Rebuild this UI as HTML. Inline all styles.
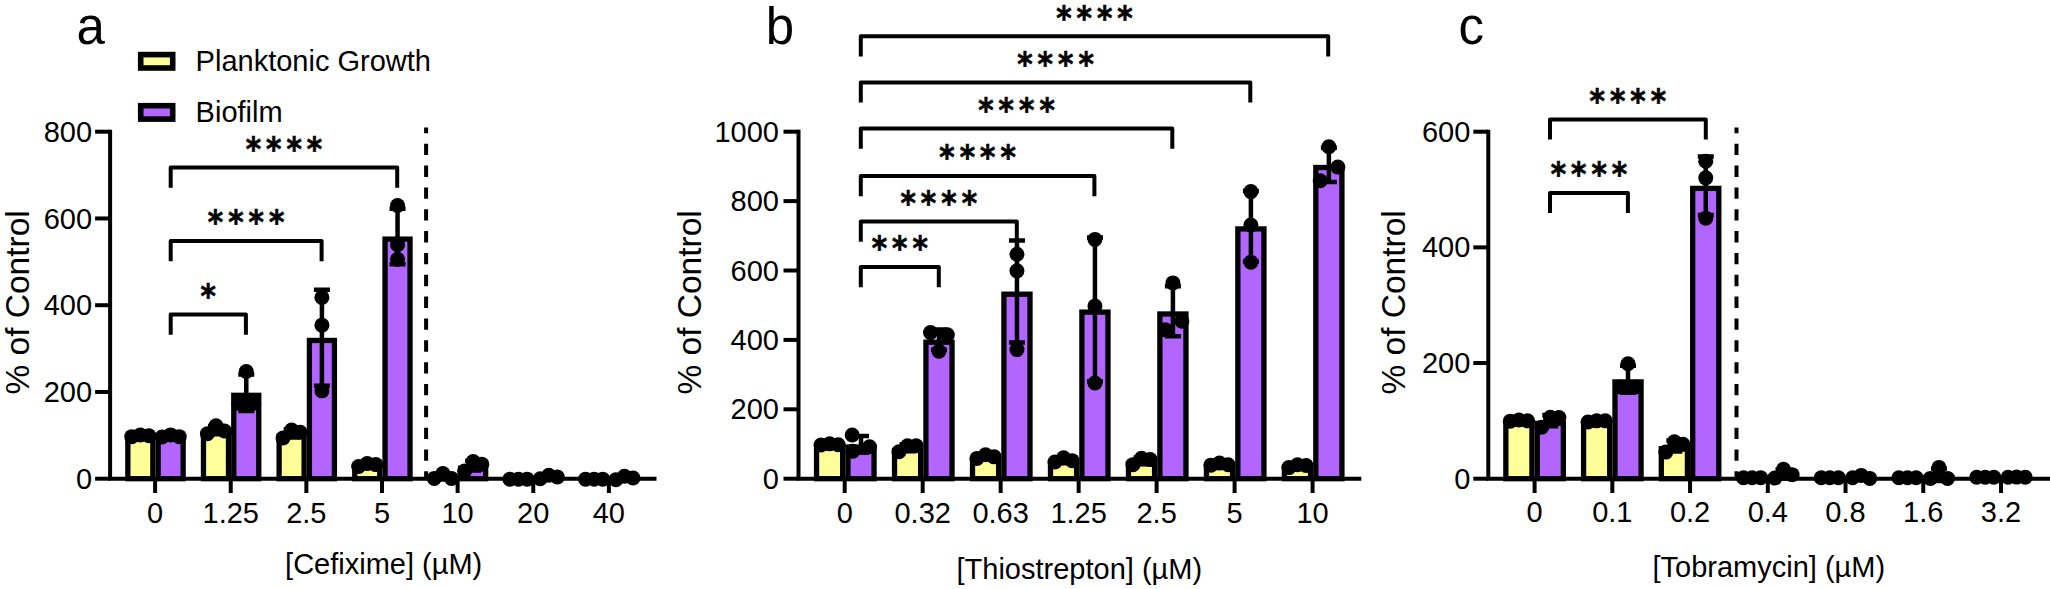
<!DOCTYPE html>
<html lang="en">
<head>
<meta charset="utf-8">
<title>Biofilm stimulation by antibiotics</title>
<style>
html,body{margin:0;padding:0;background:#fff;}
body{width:2050px;height:589px;overflow:hidden;}
svg{display:block;}
text{font-family:"Liberation Sans",Arial,Helvetica,sans-serif;fill:#000;}
text.st{font-family:"DejaVu Sans Mono","Liberation Mono",monospace;font-weight:bold;font-size:32px;letter-spacing:2.67px;stroke:#000;stroke-width:0.6px;stroke-linejoin:miter;}
.bar{stroke:#000;stroke-width:5.3;}
.lg{stroke:#000;stroke-width:5.6;}
.ax{fill:none;stroke:#000;stroke-width:4.0;}
.eb{fill:none;stroke:#000;stroke-width:4.5;}
.br{fill:none;stroke:#000;stroke-width:4;stroke-linejoin:round;}
.dash{fill:none;stroke:#000;stroke-width:4;stroke-dasharray:11.35 10.49;stroke-dashoffset:5.5;}
circle{fill:#000;}
</style>
</head>
<body>
<svg width="2050" height="589" viewBox="0 0 2050 589">
<rect width="2050" height="589" fill="#fff"/>
<g id="bars-a">
<rect class="bar" x="127.85" y="438.41" width="25.00" height="40.29" fill="#FFFF99"/>
<rect class="bar" x="158.15" y="438.84" width="25.00" height="39.86" fill="#B266FF"/>
<rect class="bar" x="203.48" y="432.84" width="25.00" height="45.86" fill="#FFFF99"/>
<rect class="bar" x="233.78" y="395.32" width="25.00" height="83.38" fill="#B266FF"/>
<rect class="bar" x="279.11" y="436.10" width="25.00" height="42.60" fill="#FFFF99"/>
<rect class="bar" x="309.41" y="340.45" width="25.00" height="138.25" fill="#B266FF"/>
<rect class="bar" x="354.74" y="467.54" width="25.00" height="11.16" fill="#FFFF99"/>
<rect class="bar" x="385.04" y="239.10" width="25.00" height="239.60" fill="#B266FF"/>
<rect x="427.72" y="476.76" width="30.30" height="1.94" fill="#000"/>
<rect class="bar" x="460.67" y="468.24" width="25.00" height="10.46" fill="#B266FF"/>
<rect x="533.65" y="476.96" width="30.30" height="1.74" fill="#000"/>
<rect x="609.28" y="478.03" width="30.30" height="0.67" fill="#000"/>
</g>
<g id="err-a">
<path class="eb" d="M170.65 435.04V437.34M162.65 435.04h16M162.65 437.34h16"/>
<path class="eb" d="M215.98 426.12V434.26M207.98 426.12h16M207.98 434.26h16"/>
<path class="eb" d="M246.28 374.39V410.95M238.28 374.39h16M238.28 410.95h16"/>
<path class="eb" d="M291.61 429.42V437.48M283.61 429.42h16M283.61 437.48h16"/>
<path class="eb" d="M321.91 289.80V385.81M313.91 289.80h16M313.91 385.81h16"/>
<path class="eb" d="M367.24 463.35V466.43M359.24 463.35h16M359.24 466.43h16"/>
<path class="eb" d="M397.54 208.63V264.27M389.54 208.63h16M389.54 264.27h16"/>
<path class="eb" d="M442.87 473.93V479.59M434.87 473.93h16M434.87 479.59h16"/>
<path class="eb" d="M473.17 460.74V470.43M465.17 460.74h16M465.17 470.43h16"/>
<path class="eb" d="M548.80 475.23V478.70M540.80 475.23h16M540.80 478.70h16"/>
<path class="eb" d="M624.43 476.30V479.77M616.43 476.30h16M616.43 479.77h16"/>
</g>
<g id="pts-a">
<circle cx="131.75" cy="436.63" r="7.5"/>
<circle cx="140.35" cy="434.89" r="7.5"/>
<circle cx="148.95" cy="435.76" r="7.5"/>
<circle cx="162.05" cy="437.06" r="7.5"/>
<circle cx="170.65" cy="434.89" r="7.5"/>
<circle cx="179.25" cy="436.63" r="7.5"/>
<circle cx="207.38" cy="433.81" r="7.5"/>
<circle cx="215.98" cy="425.78" r="7.5"/>
<circle cx="224.58" cy="430.99" r="7.5"/>
<circle cx="246.28" cy="371.56" r="7.5"/>
<circle cx="238.78" cy="403.23" r="7.5"/>
<circle cx="253.78" cy="403.23" r="7.5"/>
<circle cx="283.01" cy="437.93" r="7.5"/>
<circle cx="291.61" cy="430.12" r="7.5"/>
<circle cx="300.21" cy="432.29" r="7.5"/>
<circle cx="321.91" cy="297.39" r="7.5"/>
<circle cx="321.91" cy="325.15" r="7.5"/>
<circle cx="321.91" cy="390.87" r="7.5"/>
<circle cx="358.64" cy="466.56" r="7.5"/>
<circle cx="367.24" cy="463.52" r="7.5"/>
<circle cx="375.84" cy="464.60" r="7.5"/>
<circle cx="397.54" cy="205.44" r="7.5"/>
<circle cx="397.54" cy="244.69" r="7.5"/>
<circle cx="397.54" cy="259.22" r="7.5"/>
<circle cx="434.27" cy="478.40" r="7.5"/>
<circle cx="442.87" cy="473.50" r="7.5"/>
<circle cx="451.47" cy="478.40" r="7.5"/>
<circle cx="464.57" cy="470.98" r="7.5"/>
<circle cx="473.17" cy="461.61" r="7.5"/>
<circle cx="481.77" cy="464.17" r="7.5"/>
<circle cx="509.90" cy="479.13" r="7.5"/>
<circle cx="518.50" cy="479.13" r="7.5"/>
<circle cx="527.10" cy="479.13" r="7.5"/>
<circle cx="540.20" cy="478.70" r="7.5"/>
<circle cx="548.80" cy="475.23" r="7.5"/>
<circle cx="557.40" cy="476.96" r="7.5"/>
<circle cx="585.53" cy="479.13" r="7.5"/>
<circle cx="594.13" cy="479.13" r="7.5"/>
<circle cx="602.73" cy="479.13" r="7.5"/>
<circle cx="615.83" cy="479.78" r="7.5"/>
<circle cx="624.43" cy="476.31" r="7.5"/>
<circle cx="633.03" cy="478.01" r="7.5"/>
</g>
<path class="ax" d="M110.10 129.70V478.70H656.50"/>
<path class="ax" d="M95.10 478.70H110.10"/>
<text x="92.10" y="488.80" font-size="29.0" text-anchor="end" >0</text>
<path class="ax" d="M95.10 391.95H110.10"/>
<text x="92.10" y="402.05" font-size="29.0" text-anchor="end" >200</text>
<path class="ax" d="M95.10 305.20H110.10"/>
<text x="92.10" y="315.30" font-size="29.0" text-anchor="end" >400</text>
<path class="ax" d="M95.10 218.45H110.10"/>
<text x="92.10" y="228.55" font-size="29.0" text-anchor="end" >600</text>
<path class="ax" d="M95.10 131.70H110.10"/>
<text x="92.10" y="141.80" font-size="29.0" text-anchor="end" >800</text>
<path class="ax" d="M155.10 478.70V493.00"/>
<text x="155.10" y="523.20" font-size="29.0" text-anchor="middle" >0</text>
<path class="ax" d="M230.73 478.70V493.00"/>
<text x="230.73" y="523.20" font-size="29.0" text-anchor="middle" >1.25</text>
<path class="ax" d="M306.36 478.70V493.00"/>
<text x="306.36" y="523.20" font-size="29.0" text-anchor="middle" >2.5</text>
<path class="ax" d="M381.99 478.70V493.00"/>
<text x="381.99" y="523.20" font-size="29.0" text-anchor="middle" >5</text>
<path class="ax" d="M457.62 478.70V493.00"/>
<text x="457.62" y="523.20" font-size="29.0" text-anchor="middle" >10</text>
<path class="ax" d="M533.25 478.70V493.00"/>
<text x="533.25" y="523.20" font-size="29.0" text-anchor="middle" >20</text>
<path class="ax" d="M608.88 478.70V493.00"/>
<text x="608.88" y="523.20" font-size="29.0" text-anchor="middle" >40</text>
<text x="383.70" y="574.40" font-size="29.0" text-anchor="middle" >[Cefixime] (µM)</text>
<text transform="translate(29.30 302.40) rotate(-90)" font-size="33.5" text-anchor="middle">% of Control</text>
<text x="76.40" y="43.80" font-size="51.0" text-anchor="start" >a</text>
<path class="dash" d="M426.10 127.4V478.70"/>
<path class="br" d="M170.70 334.70V314.50H245.90V334.70"/>
<text class="st" transform="translate(209.50 307.50) scale(0.93 1.05)" text-anchor="middle">*</text>
<path class="br" d="M170.70 261.30V241.10H321.60V261.30"/>
<text class="st" transform="translate(247.35 234.10) scale(0.93 1.05)" text-anchor="middle">****</text>
<path class="br" d="M170.70 187.70V167.50H397.20V187.70"/>
<text class="st" transform="translate(285.15 160.50) scale(0.93 1.05)" text-anchor="middle">****</text>
<g id="bars-b">
<rect class="bar" x="816.55" y="447.17" width="26.10" height="31.53" fill="#FFFF99"/>
<rect class="bar" x="847.95" y="447.00" width="26.10" height="31.70" fill="#B266FF"/>
<rect class="bar" x="894.53" y="450.41" width="26.10" height="28.29" fill="#FFFF99"/>
<rect class="bar" x="925.93" y="342.19" width="26.10" height="136.51" fill="#B266FF"/>
<rect class="bar" x="972.51" y="459.32" width="26.10" height="19.38" fill="#FFFF99"/>
<rect class="bar" x="1003.91" y="294.20" width="26.10" height="184.50" fill="#B266FF"/>
<rect class="bar" x="1050.49" y="462.79" width="26.10" height="15.91" fill="#FFFF99"/>
<rect class="bar" x="1081.89" y="312.12" width="26.10" height="166.58" fill="#B266FF"/>
<rect class="bar" x="1128.47" y="463.48" width="26.10" height="15.22" fill="#FFFF99"/>
<rect class="bar" x="1159.87" y="313.99" width="26.10" height="164.71" fill="#B266FF"/>
<rect class="bar" x="1206.45" y="467.01" width="26.10" height="11.69" fill="#FFFF99"/>
<rect class="bar" x="1237.85" y="228.92" width="26.10" height="249.78" fill="#B266FF"/>
<rect class="bar" x="1284.43" y="468.63" width="26.10" height="10.07" fill="#FFFF99"/>
<rect class="bar" x="1315.83" y="167.49" width="26.10" height="311.21" fill="#B266FF"/>
</g>
<g id="err-b">
<path class="eb" d="M861.00 435.93V452.77M853.00 435.93h16M853.00 452.77h16"/>
<path class="eb" d="M907.58 444.25V451.27M899.58 444.25h16M899.58 451.27h16"/>
<path class="eb" d="M938.98 329.38V349.71M930.98 329.38h16M930.98 349.71h16"/>
<path class="eb" d="M985.56 454.84V458.49M977.56 454.84h16M977.56 458.49h16"/>
<path class="eb" d="M1016.96 240.58V342.52M1008.96 240.58h16M1008.96 342.52h16"/>
<path class="eb" d="M1063.54 457.92V462.35M1055.54 457.92h16M1055.54 462.35h16"/>
<path class="eb" d="M1094.94 237.61V381.33M1086.94 237.61h16M1086.94 381.33h16"/>
<path class="eb" d="M1141.52 457.45V464.21M1133.52 457.45h16M1133.52 464.21h16"/>
<path class="eb" d="M1172.92 286.33V336.35M1164.92 286.33h16M1164.92 336.35h16"/>
<path class="eb" d="M1219.50 463.24V465.47M1211.50 463.24h16M1211.50 465.47h16"/>
<path class="eb" d="M1250.90 190.96V261.57M1242.90 190.96h16M1242.90 261.57h16"/>
<path class="eb" d="M1297.48 464.53V467.42M1289.48 464.53h16M1289.48 467.42h16"/>
<path class="eb" d="M1328.88 147.74V181.94M1320.88 147.74h16M1320.88 181.94h16"/>
</g>
<g id="pts-b">
<circle cx="821.00" cy="445.04" r="7.5"/>
<circle cx="829.60" cy="443.83" r="7.5"/>
<circle cx="838.20" cy="444.69" r="7.5"/>
<circle cx="852.20" cy="434.98" r="7.5"/>
<circle cx="869.50" cy="446.78" r="7.5"/>
<circle cx="852.80" cy="451.29" r="7.5"/>
<circle cx="898.98" cy="451.81" r="7.5"/>
<circle cx="907.58" cy="445.74" r="7.5"/>
<circle cx="916.18" cy="445.74" r="7.5"/>
<circle cx="930.48" cy="332.61" r="7.5"/>
<circle cx="947.38" cy="334.80" r="7.5"/>
<circle cx="938.98" cy="351.21" r="7.5"/>
<circle cx="976.96" cy="458.40" r="7.5"/>
<circle cx="985.56" cy="454.76" r="7.5"/>
<circle cx="994.16" cy="456.84" r="7.5"/>
<circle cx="1016.96" cy="254.19" r="7.5"/>
<circle cx="1016.96" cy="270.85" r="7.5"/>
<circle cx="1016.96" cy="349.62" r="7.5"/>
<circle cx="1054.94" cy="462.04" r="7.5"/>
<circle cx="1063.54" cy="457.71" r="7.5"/>
<circle cx="1072.14" cy="460.66" r="7.5"/>
<circle cx="1094.94" cy="239.41" r="7.5"/>
<circle cx="1094.94" cy="306.00" r="7.5"/>
<circle cx="1094.94" cy="383.00" r="7.5"/>
<circle cx="1132.92" cy="464.65" r="7.5"/>
<circle cx="1141.52" cy="458.23" r="7.5"/>
<circle cx="1150.12" cy="459.62" r="7.5"/>
<circle cx="1172.92" cy="282.89" r="7.5"/>
<circle cx="1181.82" cy="321.30" r="7.5"/>
<circle cx="1165.32" cy="329.84" r="7.5"/>
<circle cx="1210.90" cy="465.17" r="7.5"/>
<circle cx="1219.50" cy="463.08" r="7.5"/>
<circle cx="1228.10" cy="464.82" r="7.5"/>
<circle cx="1250.90" cy="191.59" r="7.5"/>
<circle cx="1250.90" cy="225.04" r="7.5"/>
<circle cx="1250.90" cy="262.17" r="7.5"/>
<circle cx="1288.88" cy="467.60" r="7.5"/>
<circle cx="1297.48" cy="464.82" r="7.5"/>
<circle cx="1306.08" cy="465.51" r="7.5"/>
<circle cx="1328.88" cy="146.73" r="7.5"/>
<circle cx="1337.88" cy="167.09" r="7.5"/>
<circle cx="1320.18" cy="180.70" r="7.5"/>
</g>
<path class="ax" d="M798.50 129.70V478.70H1361.30"/>
<path class="ax" d="M783.50 478.70H798.50"/>
<text x="778.90" y="488.80" font-size="29.0" text-anchor="end" >0</text>
<path class="ax" d="M783.50 409.30H798.50"/>
<text x="778.90" y="419.40" font-size="29.0" text-anchor="end" >200</text>
<path class="ax" d="M783.50 339.90H798.50"/>
<text x="778.90" y="350.00" font-size="29.0" text-anchor="end" >400</text>
<path class="ax" d="M783.50 270.50H798.50"/>
<text x="778.90" y="280.60" font-size="29.0" text-anchor="end" >600</text>
<path class="ax" d="M783.50 201.10H798.50"/>
<text x="778.90" y="211.20" font-size="29.0" text-anchor="end" >800</text>
<path class="ax" d="M783.50 131.70H798.50"/>
<text x="778.90" y="141.80" font-size="29.0" text-anchor="end" >1000</text>
<path class="ax" d="M844.70 478.70V493.00"/>
<text x="844.70" y="523.00" font-size="29.0" text-anchor="middle" >0</text>
<path class="ax" d="M922.68 478.70V493.00"/>
<text x="922.68" y="523.00" font-size="29.0" text-anchor="middle" >0.32</text>
<path class="ax" d="M1000.66 478.70V493.00"/>
<text x="1000.66" y="523.00" font-size="29.0" text-anchor="middle" >0.63</text>
<path class="ax" d="M1078.64 478.70V493.00"/>
<text x="1078.64" y="523.00" font-size="29.0" text-anchor="middle" >1.25</text>
<path class="ax" d="M1156.62 478.70V493.00"/>
<text x="1156.62" y="523.00" font-size="29.0" text-anchor="middle" >2.5</text>
<path class="ax" d="M1234.60 478.70V493.00"/>
<text x="1234.60" y="523.00" font-size="29.0" text-anchor="middle" >5</text>
<path class="ax" d="M1312.58 478.70V493.00"/>
<text x="1312.58" y="523.00" font-size="29.0" text-anchor="middle" >10</text>
<text x="1079.30" y="579.20" font-size="29.0" text-anchor="middle" >[Thiostrepton] (µM)</text>
<text transform="translate(701.00 302.40) rotate(-90)" font-size="33.5" text-anchor="middle">% of Control</text>
<text x="765.70" y="43.80" font-size="51.0" text-anchor="start" >b</text>
<path class="br" d="M860.80 287.20V267.00H938.80V287.20"/>
<text class="st" transform="translate(901.00 260.40) scale(0.93 1.05)" text-anchor="middle">***</text>
<path class="br" d="M860.80 241.70V221.50H1016.80V241.70"/>
<text class="st" transform="translate(940.00 214.90) scale(0.93 1.05)" text-anchor="middle">****</text>
<path class="br" d="M860.80 196.20V176.00H1094.40V196.20"/>
<text class="st" transform="translate(978.80 169.40) scale(0.93 1.05)" text-anchor="middle">****</text>
<path class="br" d="M860.80 148.80V128.60H1172.30V148.80"/>
<text class="st" transform="translate(1017.75 122.00) scale(0.93 1.05)" text-anchor="middle">****</text>
<path class="br" d="M860.80 102.60V82.40H1250.30V102.60"/>
<text class="st" transform="translate(1056.75 75.80) scale(0.93 1.05)" text-anchor="middle">****</text>
<path class="br" d="M860.80 56.50V36.30H1328.20V56.50"/>
<text class="st" transform="translate(1095.70 29.70) scale(0.93 1.05)" text-anchor="middle">****</text>
<g id="bars-c">
<rect class="bar" x="1505.85" y="423.32" width="26.10" height="55.38" fill="#FFFF99"/>
<rect class="bar" x="1537.25" y="423.34" width="26.10" height="55.36" fill="#B266FF"/>
<rect class="bar" x="1583.58" y="423.90" width="26.10" height="54.80" fill="#FFFF99"/>
<rect class="bar" x="1614.98" y="381.93" width="26.10" height="96.77" fill="#B266FF"/>
<rect class="bar" x="1661.31" y="448.67" width="26.10" height="30.03" fill="#FFFF99"/>
<rect class="bar" x="1692.71" y="188.39" width="26.10" height="290.31" fill="#B266FF"/>
<rect x="1736.39" y="477.72" width="31.40" height="0.98" fill="#000"/>
<rect x="1767.79" y="474.03" width="31.40" height="4.67" fill="#000"/>
<rect x="1814.12" y="477.72" width="31.40" height="0.98" fill="#000"/>
<rect x="1845.52" y="477.18" width="31.40" height="1.52" fill="#000"/>
<rect x="1891.85" y="477.72" width="31.40" height="0.98" fill="#000"/>
<rect x="1923.25" y="474.75" width="31.40" height="3.95" fill="#000"/>
<rect x="1969.58" y="477.27" width="31.40" height="1.43" fill="#000"/>
<rect x="2000.98" y="477.23" width="31.40" height="1.47" fill="#000"/>
</g>
<g id="err-c">
<path class="eb" d="M1550.30 415.03V426.35M1542.30 415.03h16M1542.30 426.35h16"/>
<path class="eb" d="M1628.03 365.86V392.71M1620.03 365.86h16M1620.03 392.71h16"/>
<path class="eb" d="M1674.36 440.61V451.44M1666.36 440.61h16M1666.36 451.44h16"/>
<path class="eb" d="M1705.76 156.45V215.03M1697.76 156.45h16M1697.76 215.03h16"/>
<path class="eb" d="M1783.49 469.61V478.46M1775.49 469.61h16M1775.49 478.46h16"/>
<path class="eb" d="M1861.22 475.60V478.75M1853.22 475.60h16M1853.22 478.75h16"/>
<path class="eb" d="M1938.95 468.40V481.09M1930.95 468.40h16M1930.95 481.09h16"/>
</g>
<g id="pts-c">
<circle cx="1510.30" cy="421.16" r="7.5"/>
<circle cx="1518.90" cy="420.00" r="7.5"/>
<circle cx="1527.50" cy="420.87" r="7.5"/>
<circle cx="1541.70" cy="427.23" r="7.5"/>
<circle cx="1550.30" cy="417.28" r="7.5"/>
<circle cx="1558.90" cy="417.57" r="7.5"/>
<circle cx="1588.03" cy="422.02" r="7.5"/>
<circle cx="1596.63" cy="420.87" r="7.5"/>
<circle cx="1605.23" cy="420.87" r="7.5"/>
<circle cx="1628.03" cy="363.79" r="7.5"/>
<circle cx="1620.53" cy="387.03" r="7.5"/>
<circle cx="1635.53" cy="387.03" r="7.5"/>
<circle cx="1665.76" cy="452.10" r="7.5"/>
<circle cx="1674.36" cy="441.69" r="7.5"/>
<circle cx="1682.96" cy="444.29" r="7.5"/>
<circle cx="1705.76" cy="161.19" r="7.5"/>
<circle cx="1705.76" cy="177.85" r="7.5"/>
<circle cx="1705.76" cy="218.16" r="7.5"/>
<circle cx="1743.49" cy="477.72" r="7.5"/>
<circle cx="1752.09" cy="477.72" r="7.5"/>
<circle cx="1760.69" cy="477.72" r="7.5"/>
<circle cx="1774.89" cy="478.12" r="7.5"/>
<circle cx="1783.49" cy="469.33" r="7.5"/>
<circle cx="1792.09" cy="474.65" r="7.5"/>
<circle cx="1821.22" cy="477.72" r="7.5"/>
<circle cx="1829.82" cy="477.72" r="7.5"/>
<circle cx="1838.42" cy="477.72" r="7.5"/>
<circle cx="1852.62" cy="477.72" r="7.5"/>
<circle cx="1861.22" cy="475.40" r="7.5"/>
<circle cx="1869.82" cy="478.41" r="7.5"/>
<circle cx="1898.95" cy="477.72" r="7.5"/>
<circle cx="1907.55" cy="477.72" r="7.5"/>
<circle cx="1916.15" cy="477.72" r="7.5"/>
<circle cx="1930.35" cy="478.41" r="7.5"/>
<circle cx="1938.95" cy="467.42" r="7.5"/>
<circle cx="1947.55" cy="478.41" r="7.5"/>
<circle cx="1976.68" cy="477.31" r="7.5"/>
<circle cx="1985.28" cy="477.20" r="7.5"/>
<circle cx="1993.88" cy="477.31" r="7.5"/>
<circle cx="2008.08" cy="477.31" r="7.5"/>
<circle cx="2016.68" cy="477.08" r="7.5"/>
<circle cx="2025.28" cy="477.31" r="7.5"/>
</g>
<path class="ax" d="M1488.30 129.70V478.70H2050.00"/>
<path class="ax" d="M1473.30 478.70H1488.30"/>
<text x="1470.30" y="488.80" font-size="29.0" text-anchor="end" >0</text>
<path class="ax" d="M1473.30 363.03H1488.30"/>
<text x="1470.30" y="373.13" font-size="29.0" text-anchor="end" >200</text>
<path class="ax" d="M1473.30 247.37H1488.30"/>
<text x="1470.30" y="257.47" font-size="29.0" text-anchor="end" >400</text>
<path class="ax" d="M1473.30 131.70H1488.30"/>
<text x="1470.30" y="141.80" font-size="29.0" text-anchor="end" >600</text>
<path class="ax" d="M1534.60 478.70V493.00"/>
<text x="1534.60" y="522.00" font-size="29.0" text-anchor="middle" >0</text>
<path class="ax" d="M1612.33 478.70V493.00"/>
<text x="1612.33" y="522.00" font-size="29.0" text-anchor="middle" >0.1</text>
<path class="ax" d="M1690.06 478.70V493.00"/>
<text x="1690.06" y="522.00" font-size="29.0" text-anchor="middle" >0.2</text>
<path class="ax" d="M1767.79 478.70V493.00"/>
<text x="1767.79" y="522.00" font-size="29.0" text-anchor="middle" >0.4</text>
<path class="ax" d="M1845.52 478.70V493.00"/>
<text x="1845.52" y="522.00" font-size="29.0" text-anchor="middle" >0.8</text>
<path class="ax" d="M1923.25 478.70V493.00"/>
<text x="1923.25" y="522.00" font-size="29.0" text-anchor="middle" >1.6</text>
<path class="ax" d="M2000.98 478.70V493.00"/>
<text x="2000.98" y="522.00" font-size="29.0" text-anchor="middle" >3.2</text>
<text x="1768.80" y="576.80" font-size="29.0" text-anchor="middle" >[Tobramycin] (µM)</text>
<text transform="translate(1404.60 302.40) rotate(-90)" font-size="33.5" text-anchor="middle">% of Control</text>
<text x="1458.60" y="43.80" font-size="51.0" text-anchor="start" >c</text>
<path class="dash" d="M1736.50 127.4V478.70"/>
<path class="br" d="M1550.00 213.10V192.90H1627.90V213.10"/>
<text class="st" transform="translate(1590.15 186.40) scale(0.93 1.05)" text-anchor="middle">****</text>
<path class="br" d="M1550.00 139.60V119.40H1705.80V139.60"/>
<text class="st" transform="translate(1629.10 112.90) scale(0.93 1.05)" text-anchor="middle">****</text>
<rect class="lg" x="140.7" y="54.6" width="32.0" height="13.4" fill="#FFFF99"/>
<rect class="lg" x="140.7" y="105.7" width="32.0" height="13.4" fill="#B266FF"/>
<text x="195.60" y="70.60" font-size="29.0" text-anchor="start" >Planktonic Growth</text>
<text x="195.60" y="122.20" font-size="29.0" text-anchor="start" >Biofilm</text>
</svg>
</body>
</html>
